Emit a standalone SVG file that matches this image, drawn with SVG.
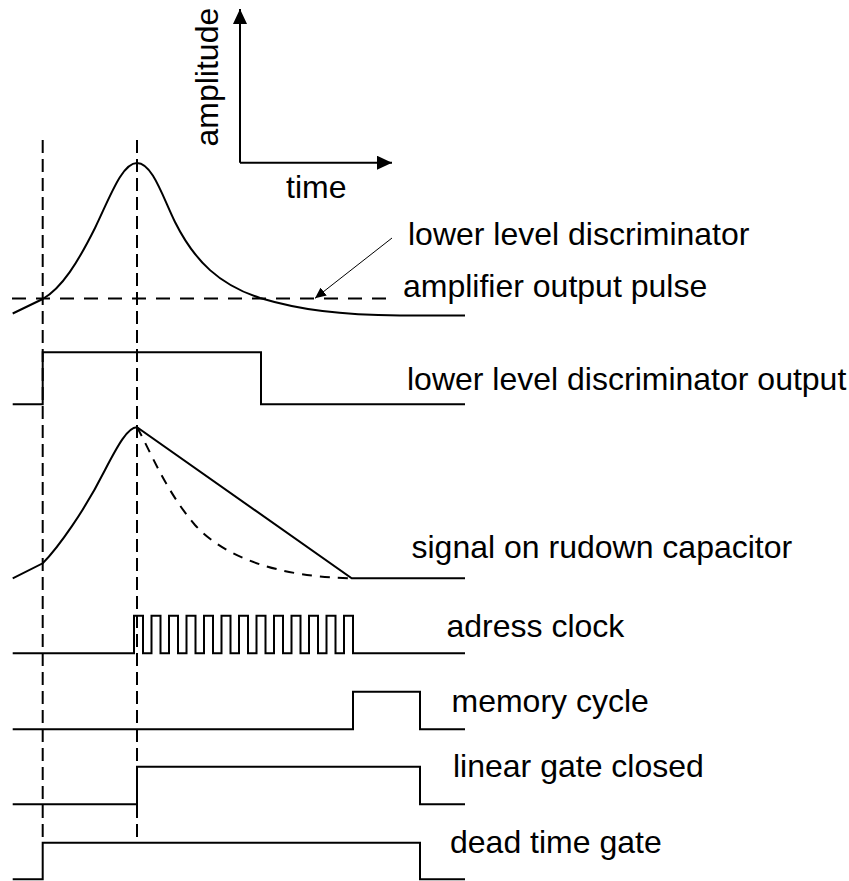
<svg xmlns="http://www.w3.org/2000/svg" width="849" height="881" viewBox="0 0 849 881">
  <style>
    .wave { fill: none; stroke: #000; stroke-width: 2; stroke-linejoin: miter; }
    .vguide { fill: none; stroke: #000; stroke-width: 2; stroke-dasharray: 13 6; }
    .hguide { fill: none; stroke: #000; stroke-width: 2; stroke-dasharray: 14 10; }
    .decay { fill: none; stroke: #000; stroke-width: 2; stroke-dasharray: 10 8; }
    .label { font-family: "Liberation Sans", Arial, sans-serif; font-size: 32px; fill: #000; }
    .axis { fill: none; stroke: #000; stroke-width: 2; }
    .pointer { fill: none; stroke: #000; stroke-width: 1; }
  </style>
  <defs>
    <marker id="axisHead" markerUnits="userSpaceOnUse" markerWidth="16" markerHeight="14" refX="15" refY="7" orient="auto">
      <path d="M0,0 L15,7 L0,14 Z" fill="#000"/>
    </marker>
    <marker id="pointerHead" markerUnits="userSpaceOnUse" markerWidth="12" markerHeight="10" refX="11" refY="5" orient="auto">
      <path d="M0,0 L11,5 L0,10 Z" fill="#000"/>
    </marker>
  </defs>

  <rect width="849" height="881" fill="#fff"/>

  <!-- coordinate legend -->
  <g id="axes">
    <path class="axis" d="M240,162.7 V9" marker-end="url(#axisHead)"/>
    <path class="axis" d="M240,162.7 H392" marker-end="url(#axisHead)"/>
    <text class="label" transform="translate(217.5,146.5) rotate(-90)">amplitude</text>
    <text class="label" x="286" y="198">time</text>
  </g>

  <!-- amplifier output pulse -->
  <g id="amplifier-pulse">
    <path class="wave" d="M12.7,313.5 L42.7,299 C62,288 78,262 95,228 C110,197 122,163 137,163 C152,163 162,195 175,222 C195,262 220,285 260,298 C300,310 340,315 400,315.5 L465,315.5"/>
    <text class="label" x="403" y="296.5">amplifier output pulse</text>
  </g>

  <!-- lower level discriminator threshold -->
  <g id="lld-threshold">
    <path class="hguide" d="M12,298.5 H392"/>
    <text class="label" x="408" y="245">lower level discriminator</text>
  </g>

  <!-- lower level discriminator output -->
  <g id="lld-output">
    <path class="wave" d="M12.7,404.3 H42.7 V352.3 H261 V404.3 H465"/>
    <text class="label" x="407" y="390">lower level discriminator output</text>
  </g>

  <!-- signal on rundown capacitor -->
  <g id="rundown-signal">
    <path class="wave" d="M12.7,578.3 L42.7,563.3 C58,548 85,510 105,470 C118,445 128,427 137,427.3 L351.7,578.3 H465"/>
    <path class="decay" d="M137,427.3 C150,450 165,490 195,525 C225,558 280,577 351.7,578.3"/>
    <text class="label" x="411.5" y="558">signal on rudown capacitor</text>
  </g>

  <!-- address clock -->
  <g id="address-clock">
    <path class="wave" d="M12.7,653.3 H134 V615.7 H143 V653.3 H151.5 V615.7 H160.5 V653.3 H169 V615.7 H178 V653.3 H186.5 V615.7 H195.5 V653.3 H204 V615.7 H213 V653.3 H221.5 V615.7 H230.5 V653.3 H239 V615.7 H248 V653.3 H256.5 V615.7 H265.5 V653.3 H274 V615.7 H283 V653.3 H291.5 V615.7 H300.5 V653.3 H309 V615.7 H318 V653.3 H326.5 V615.7 H335.5 V653.3 H344 V615.7 H353 V653.3 H465"/>
    <text class="label" x="446.5" y="636.5">adress clock</text>
  </g>

  <!-- memory cycle -->
  <g id="memory-cycle">
    <path class="wave" d="M12.7,729.3 H353 V691.7 H420 V729.3 H465"/>
    <text class="label" x="451.5" y="711.5">memory cycle</text>
  </g>

  <!-- linear gate -->
  <g id="linear-gate">
    <path class="wave" d="M12.7,804.3 H137 V766.7 H420 V804.3 H465"/>
    <text class="label" x="453" y="776.5">linear gate closed</text>
  </g>

  <!-- dead time gate -->
  <g id="dead-time-gate">
    <path class="wave" d="M12.7,879.3 H42.7 V842.7 H420 V879.3 H465"/>
    <text class="label" x="450" y="852.5">dead time gate</text>
  </g>

  <!-- timing reference lines and label pointer -->
  <g id="connectors">
    <path class="vguide" d="M42.7,140 V843"/>
    <path class="vguide" d="M137,140 V843"/>
    <path class="pointer" d="M392,238 L315,298.3" marker-end="url(#pointerHead)"/>
  </g>
</svg>
